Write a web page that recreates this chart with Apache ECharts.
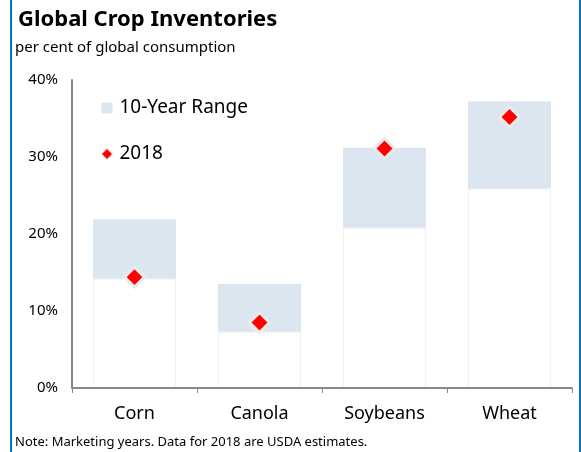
<!DOCTYPE html>
<html>
<head>
<meta charset="utf-8">
<script src="https://cdn.jsdelivr.net/npm/echarts@6/dist/echarts.min.js"></script>
<style>
  html, body { margin: 0; padding: 0; background: #fff; }
  #chart { width: 581px; height: 452px; }
</style>
</head>
<body>
<div id="chart"></div>
<script>
// Global crop inventories, per cent of global consumption
const categories = ['Corn', 'Canola', 'Soybeans', 'Wheat'];
const rangeLow = [14.2, 7.3, 20.8, 25.9];
const rangeHigh = [21.9, 13.5, 31.2, 37.2];
const value2018 = [14.4, 8.5, 31.1, 35.2];
const yTicks = [0, 10, 20, 30, 40];

const FONT = 'Noto Sans';
const rangeSpan = rangeHigh.map((h, i) => +(h - rangeLow[i]).toFixed(2));

const chart = echarts.init(document.getElementById('chart'), null, { renderer: 'canvas' });

chart.setOption({
  animation: false,
  backgroundColor: '#ffffff',
  textStyle: { fontFamily: FONT },
  graphic: [
    { type: 'rect', left: 10, top: 0, shape: { width: 2, height: 452 }, style: { fill: '#0a74c4' } },
    { type: 'rect', left: 579, top: 0, shape: { width: 2, height: 452 }, style: { fill: '#0a74c4' } },
    { type: 'text', left: 18, top: 9, style: { text: 'Global Crop Inventories', font: 'bold 22px "' + FONT + '"', fill: '#000' } },
    { type: 'text', left: 15, top: 40, style: { text: 'per cent of global consumption', font: '15px "' + FONT + '"', fill: '#000' } },
    { type: 'text', left: 15, top: 436, style: { text: 'Note: Marketing years. Data for 2018 are USDA estimates.', font: '13px "' + FONT + '"', fill: '#000' } }
  ],
  legend: {
    orient: 'vertical',
    left: 101,
    top: 95,
    padding: 0,
    itemGap: 20,
    itemWidth: 11,
    itemHeight: 11,
    textStyle: { fontSize: 19, color: '#000', fontFamily: FONT, padding: [0, 0, 0, 2], height: 26, lineHeight: 26 },
    data: [
      { name: '10-Year Range', icon: 'rect' },
      { name: '2018', icon: 'diamond', itemStyle: { borderColor: '#eeeeee', borderWidth: 1, opacity: 1 } }
    ]
  },
  grid: { left: 72, right: 9, top: 80, bottom: 64, containLabel: false },
  xAxis: {
    type: 'category',
    data: categories,
    z: 4,
    axisLine: { lineStyle: { color: '#888', width: 2 } },
    axisTick: { show: true, alignWithLabel: false, length: 5, lineStyle: { color: '#888' } },
    axisLabel: { fontSize: 18, color: '#000', margin: 17, fontFamily: FONT },
    splitLine: { show: false }
  },
  yAxis: {
    type: 'value',
    min: 0,
    max: 40,
    interval: 10,
    z: 4,
    axisLine: { show: true, lineStyle: { color: '#888', width: 2 } },
    axisTick: { show: false },
    splitLine: { show: false },
    axisLabel: {
      fontSize: 15, color: '#000', margin: 14, fontFamily: FONT,
      formatter: v => yTicks.includes(v) ? v + '%' : ''
    }
  },
  series: [
    {
      name: 'base',
      type: 'bar',
      stack: 'range',
      barWidth: 83,
      data: rangeLow,
      itemStyle: { color: '#ffffff', borderColor: '#f1f1f4', borderWidth: 1 },
      silent: true
    },
    {
      name: '10-Year Range',
      type: 'bar',
      stack: 'range',
      barWidth: 83,
      data: rangeSpan,
      itemStyle: { color: '#dce6f1' }
    },
    {
      name: '2018',
      type: 'scatter',
      symbol: 'diamond',
      symbolSize: 20,
      data: value2018,
      itemStyle: { color: '#ff0000', opacity: 1, borderColor: '#ebebeb', borderWidth: 3 },
      z: 5
    }
  ]
});
</script>
</body>
</html>
